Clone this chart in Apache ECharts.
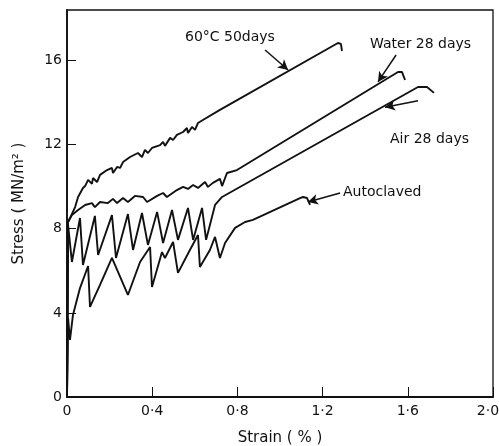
<!DOCTYPE html>
<html>
<head>
<meta charset="utf-8">
<script src="https://cdn.jsdelivr.net/npm/echarts@6/dist/echarts.min.js"></script>
<style>
  html, body { margin: 0; padding: 0; background: #fff; }
  #chart { width: 499px; height: 446px; }
</style>
</head>
<body>
<div id="chart"></div>
<script>
const FONT = 'DejaVu Sans';
const INK = '#111';

const strainTicks = [0, 0.4, 0.8, 1.2, 1.6, 2.0];
const stressTicks = [0, 4, 8, 12, 16];

// 60°C 50 days
const hot60Strain = [0, 0.005, 0.019, 0.038, 0.052, 0.075, 0.085, 0.099, 0.117, 0.122, 0.141, 0.155, 0.188, 0.211, 0.216, 0.235, 0.249, 0.263, 0.296, 0.333, 0.352, 0.366, 0.380, 0.399, 0.437, 0.451, 0.460, 0.484, 0.498, 0.516, 0.545, 0.563, 0.568, 0.587, 0.601, 0.615, 0.638, 0.718, 1.272, 1.286, 1.291];
const hot60Stress = [0, 8.32, 8.61, 9.03, 9.51, 9.94, 10.03, 10.32, 10.13, 10.41, 10.22, 10.56, 10.79, 10.89, 10.65, 10.94, 10.89, 11.17, 11.41, 11.60, 11.41, 11.75, 11.60, 11.84, 11.98, 12.13, 11.94, 12.32, 12.22, 12.46, 12.60, 12.79, 12.55, 12.84, 12.70, 13.03, 13.17, 13.65, 16.83, 16.79, 16.45];

// Water 28 days
const waterStrain = [0, 0.005, 0.023, 0.052, 0.085, 0.117, 0.131, 0.155, 0.192, 0.216, 0.235, 0.263, 0.286, 0.319, 0.357, 0.376, 0.423, 0.451, 0.469, 0.516, 0.545, 0.568, 0.592, 0.615, 0.648, 0.662, 0.685, 0.718, 0.728, 0.751, 0.798, 1.554, 1.573, 1.587];
const waterStress = [0, 8.32, 8.65, 8.89, 9.13, 9.22, 9.03, 9.27, 9.22, 9.42, 9.22, 9.46, 9.27, 9.56, 9.51, 9.27, 9.56, 9.70, 9.51, 9.84, 9.99, 9.89, 10.08, 9.94, 10.22, 9.99, 10.18, 10.37, 10.03, 10.65, 10.79, 15.45, 15.45, 15.07];

// Air 28 days
const airStrain = [0, 0.005, 0.023, 0.061, 0.075, 0.131, 0.146, 0.211, 0.230, 0.286, 0.310, 0.352, 0.380, 0.423, 0.451, 0.493, 0.521, 0.568, 0.592, 0.634, 0.653, 0.671, 0.695, 0.728, 1.648, 1.690, 1.723];
const airStress = [0, 8.18, 6.42, 8.51, 6.28, 8.61, 6.75, 8.65, 6.61, 8.70, 6.99, 8.75, 7.23, 8.80, 7.32, 8.89, 7.47, 8.99, 7.47, 8.99, 7.47, 8.18, 9.13, 9.51, 14.74, 14.74, 14.46];

// Autoclaved
const autoStrain = [0, 0.005, 0.014, 0.028, 0.061, 0.099, 0.108, 0.155, 0.211, 0.286, 0.343, 0.390, 0.399, 0.446, 0.460, 0.498, 0.521, 0.577, 0.615, 0.624, 0.671, 0.695, 0.718, 0.742, 0.789, 0.836, 0.873, 1.094, 1.108, 1.127, 1.141];
const autoStress = [0, 3.76, 2.71, 3.90, 5.18, 6.23, 4.28, 5.33, 6.61, 4.85, 6.42, 7.13, 5.23, 6.89, 6.61, 7.37, 5.90, 6.99, 7.70, 6.18, 6.99, 7.61, 6.61, 7.32, 8.04, 8.32, 8.42, 9.46, 9.51, 9.46, 9.13];

// pointer arrows [strain, stress] start -> end
const hot60Arrow = [[0.930, 16.50], [1.038, 15.55]];
const waterArrow = [[1.545, 16.26], [1.460, 14.98]];
const airArrow = [[1.648, 14.09], [1.493, 13.78]];
const autoArrow = [[1.282, 9.70], [1.131, 9.27]];

const pair = (xs, ys) => xs.map((x, i) => [x, ys[i]]);

const curves = [
  { name: '60°C 50days', strain: hot60Strain, stress: hot60Stress, arrow: hot60Arrow },
  { name: 'Water 28 days', strain: waterStrain, stress: waterStress, arrow: waterArrow },
  { name: 'Air 28 days', strain: airStrain, stress: airStress, arrow: airArrow },
  { name: 'Autoclaved', strain: autoStrain, stress: autoStress, arrow: autoArrow }
];

const tickText = (v) => (v === 0 ? '0' : v.toFixed(1).replace('.', '·'));

const labelStyle = { fontFamily: FONT, fontSize: 14, color: INK };

const chart = echarts.init(document.getElementById('chart'));

chart.setOption({
  animation: false,
  backgroundColor: '#fff',
  grid: {
    left: 67, right: 6, top: 10, bottom: 49,
    show: true, borderColor: INK, borderWidth: 1.3,
    outerBoundsMode: 'none'
  },
  xAxis: {
    type: 'value',
    min: 0, max: 2, interval: 0.4,
    name: 'Strain ( % )',
    nameLocation: 'middle',
    nameGap: 34,
    nameTextStyle: { fontFamily: FONT, fontSize: 15, color: INK },
    axisLine: { lineStyle: { color: INK, width: 1.8 } },
    axisTick: { inside: true, length: 10, customValues: strainTicks, lineStyle: { color: INK, width: 1 } },
    axisLabel: {
      ...labelStyle, margin: 7, customValues: strainTicks,
      // last label sits against the canvas edge, nudge it left like the original
      formatter: (v) => (v === 2 ? '{end|' + tickText(v) + '}' : tickText(v)),
      rich: { end: { ...labelStyle, padding: [0, 10, 0, 0] } }
    },
    splitLine: { show: false }
  },
  yAxis: {
    type: 'value',
    min: 0, max: 18.4, interval: 4,
    name: 'Stress ( MN/m² )',
    nameLocation: 'middle',
    nameGap: 40,
    nameTextStyle: { fontFamily: FONT, fontSize: 15, color: INK },
    axisLine: { lineStyle: { color: INK, width: 1.8 } },
    axisTick: { inside: true, length: 9, customValues: stressTicks, lineStyle: { color: INK, width: 1 } },
    axisLabel: { ...labelStyle, margin: 5, customValues: stressTicks },
    splitLine: { show: false }
  },
  graphic: [
    { type: 'text', left: 185, top: 30, style: { text: '60°C 50days', font: '14px "DejaVu Sans"', fill: INK } },
    { type: 'text', left: 370, top: 37, style: { text: 'Water 28 days', font: '14px "DejaVu Sans"', fill: INK } },
    { type: 'text', left: 390, top: 132, style: { text: 'Air 28 days', font: '14px "DejaVu Sans"', fill: INK } },
    { type: 'text', left: 343, top: 185, style: { text: 'Autoclaved', font: '14px "DejaVu Sans"', fill: INK } }
  ],
  series: curves.map(c => ({
    name: c.name,
    type: 'line',
    showSymbol: false,
    symbol: 'none',
    lineStyle: { color: INK, width: 1.9 },
    data: pair(c.strain, c.stress),
    markLine: {
      silent: true,
      symbol: ['none', 'arrow'],
      symbolSize: [8, 10],
      label: { show: false },
      lineStyle: { color: INK, width: 1.5, type: 'solid' },
      data: [[{ coord: c.arrow[0] }, { coord: c.arrow[1] }]]
    }
  }))
});
</script>
</body>
</html>
